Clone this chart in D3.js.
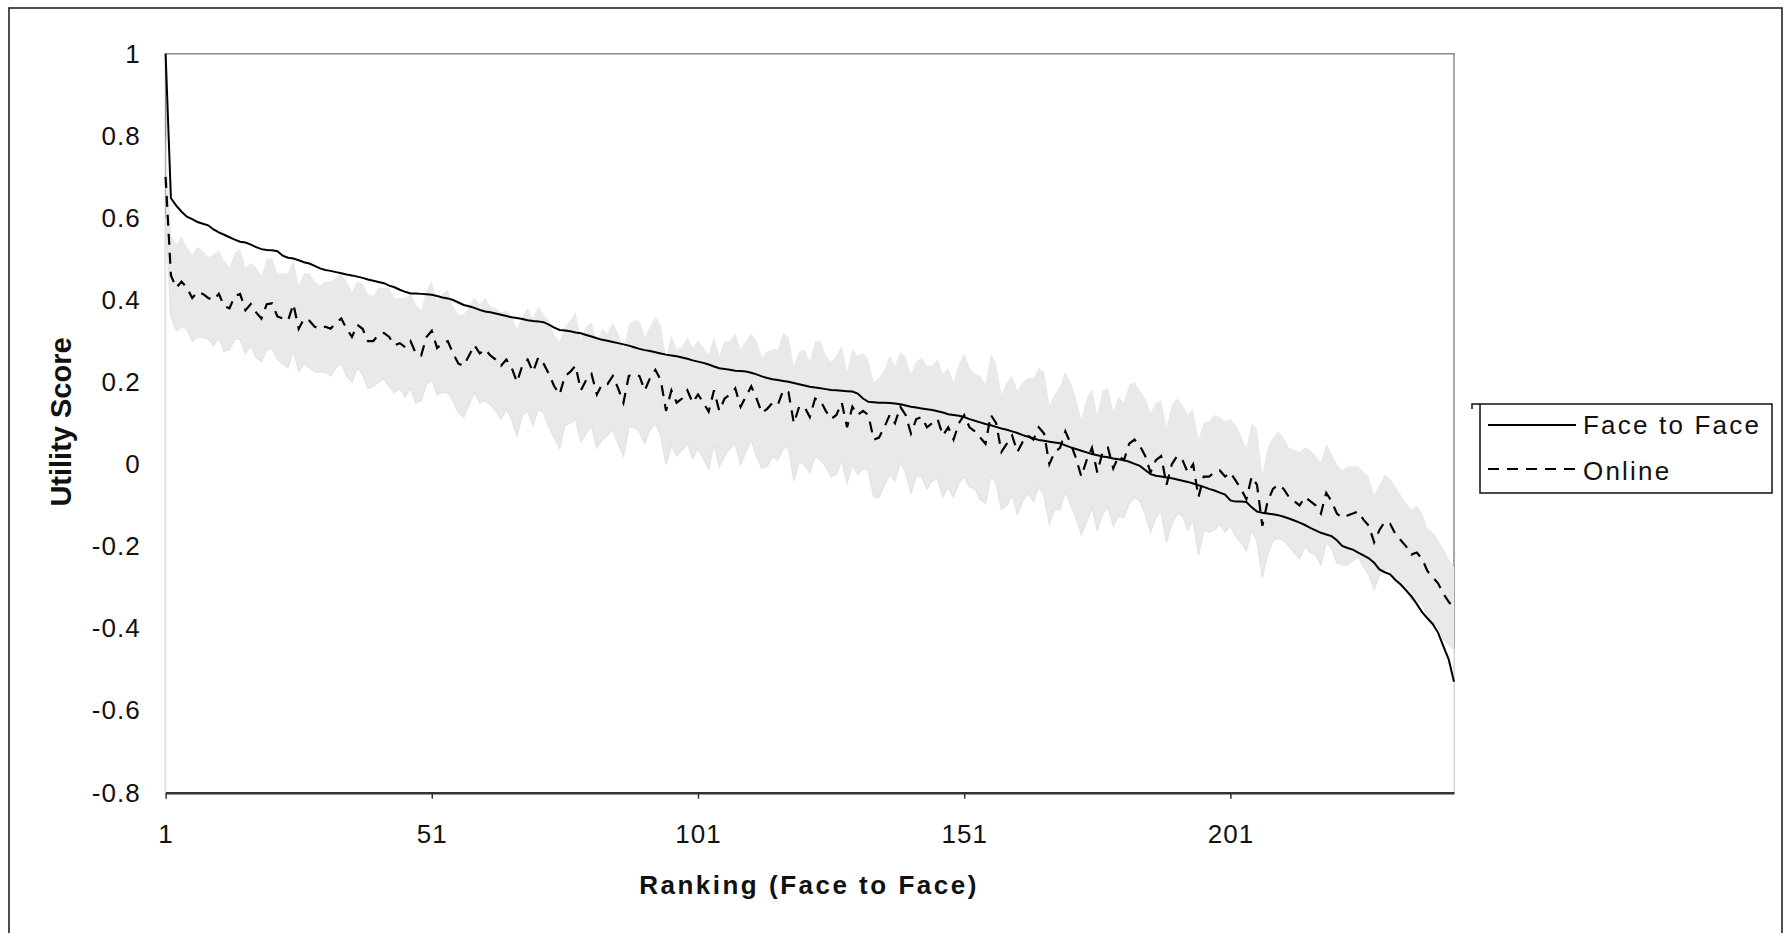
<!DOCTYPE html>
<html><head><meta charset="utf-8">
<script src="https://cdn.jsdelivr.net/npm/d3@7"></script>
<style>html,body{margin:0;padding:0;background:#fff;} svg{display:block;} text{font-family:"Liberation Sans",Arial,sans-serif;}</style>
</head><body><svg id="chart" width="1791" height="933"></svg>
<script>
const faceToFace=[
1.000,0.648,0.630,0.615,0.603,0.597,0.590,0.586,0.582,0.572,
0.565,0.559,0.553,0.547,0.542,0.540,0.535,0.529,0.524,0.522,
0.521,0.519,0.508,0.503,0.501,0.497,0.492,0.489,0.483,0.477,
0.473,0.471,0.468,0.465,0.462,0.460,0.457,0.454,0.450,0.447,
0.444,0.441,0.435,0.431,0.425,0.420,0.416,0.416,0.415,0.414,
0.413,0.410,0.406,0.404,0.400,0.394,0.388,0.385,0.381,0.376,
0.372,0.370,0.367,0.364,0.361,0.358,0.356,0.354,0.351,0.349,
0.348,0.346,0.340,0.333,0.327,0.326,0.324,0.321,0.319,0.315,
0.311,0.307,0.303,0.301,0.298,0.295,0.292,0.289,0.285,0.281,
0.278,0.276,0.273,0.270,0.267,0.265,0.263,0.260,0.257,0.253,
0.250,0.247,0.243,0.238,0.234,0.232,0.230,0.228,0.227,0.226,
0.223,0.219,0.214,0.210,0.207,0.205,0.203,0.201,0.198,0.195,
0.192,0.189,0.187,0.185,0.183,0.181,0.180,0.179,0.178,0.177,
0.172,0.160,0.152,0.151,0.150,0.150,0.149,0.148,0.146,0.143,
0.140,0.138,0.136,0.134,0.132,0.129,0.126,0.122,0.120,0.118,
0.115,0.110,0.106,0.102,0.098,0.095,0.091,0.087,0.084,0.080,
0.076,0.071,0.067,0.063,0.059,0.057,0.055,0.053,0.051,0.046,
0.041,0.037,0.033,0.029,0.025,0.022,0.019,0.017,0.014,0.012,
0.010,0.006,0.001,-0.004,-0.014,-0.024,-0.028,-0.030,-0.032,-0.034,
-0.037,-0.040,-0.043,-0.047,-0.051,-0.055,-0.060,-0.064,-0.069,-0.074,
-0.088,-0.091,-0.091,-0.092,-0.105,-0.115,-0.118,-0.120,-0.122,-0.124,
-0.128,-0.132,-0.137,-0.142,-0.148,-0.155,-0.161,-0.167,-0.171,-0.175,
-0.185,-0.199,-0.204,-0.208,-0.215,-0.222,-0.229,-0.240,-0.256,-0.263,
-0.268,-0.282,-0.293,-0.307,-0.322,-0.340,-0.360,-0.375,-0.389,-0.410,
-0.443,-0.475,-0.530];

const online=[
0.700,0.460,0.430,0.445,0.430,0.405,0.420,0.415,0.405,0.400,
0.415,0.385,0.380,0.410,0.415,0.375,0.390,0.370,0.355,0.390,
0.392,0.360,0.355,0.350,0.390,0.330,0.355,0.350,0.335,0.330,
0.335,0.330,0.345,0.355,0.330,0.310,0.340,0.330,0.300,0.300,
0.315,0.320,0.310,0.290,0.295,0.285,0.300,0.270,0.265,0.310,
0.325,0.283,0.295,0.300,0.270,0.245,0.240,0.265,0.290,0.270,
0.280,0.265,0.255,0.240,0.255,0.235,0.200,0.240,0.255,0.225,
0.260,0.245,0.220,0.190,0.170,0.215,0.225,0.240,0.180,0.205,
0.220,0.170,0.195,0.195,0.215,0.185,0.150,0.215,0.220,0.215,
0.180,0.210,0.230,0.205,0.130,0.180,0.150,0.160,0.180,0.150,
0.170,0.150,0.128,0.180,0.130,0.160,0.170,0.185,0.140,0.165,
0.190,0.160,0.125,0.135,0.150,0.145,0.180,0.175,0.100,0.140,
0.140,0.115,0.160,0.155,0.130,0.110,0.120,0.150,0.090,0.140,
0.120,0.130,0.120,0.060,0.065,0.090,0.120,0.100,0.140,0.120,
0.075,0.110,0.115,0.090,0.100,0.110,0.070,0.090,0.060,0.100,
0.120,0.090,0.080,0.065,0.050,0.120,0.100,0.030,0.050,0.070,
0.030,0.055,0.070,0.060,0.090,0.075,0.000,0.030,0.040,0.080,
0.050,0.015,-0.030,0.010,0.040,-0.020,0.030,0.040,-0.010,0.020,
0.010,0.050,0.060,0.045,0.020,-0.020,0.010,0.020,-0.050,0.000,
0.020,0.010,-0.020,0.000,-0.080,-0.030,-0.030,-0.020,-0.015,-0.030,
-0.020,-0.040,-0.060,-0.085,-0.030,-0.050,-0.150,-0.090,-0.060,-0.050,
-0.060,-0.080,-0.090,-0.100,-0.080,-0.090,-0.100,-0.120,-0.070,-0.090,
-0.120,-0.130,-0.125,-0.120,-0.115,-0.135,-0.150,-0.190,-0.160,-0.140,
-0.145,-0.170,-0.185,-0.200,-0.220,-0.215,-0.230,-0.260,-0.275,-0.290,
-0.315,-0.335,-0.350];

// half-width of the shaded interval around the Online series
const onlineCI=[
0.100,0.100,0.105,0.110,0.100,0.105,0.110,0.105,0.100,0.110,
0.105,0.110,0.100,0.105,0.110,0.105,0.100,0.110,0.105,0.110,
0.110,0.105,0.110,0.115,0.110,0.105,0.110,0.115,0.110,0.105,
0.110,0.115,0.110,0.110,0.115,0.110,0.105,0.110,0.115,0.110,
0.115,0.110,0.120,0.115,0.110,0.120,0.115,0.120,0.110,0.115,
0.120,0.115,0.120,0.125,0.115,0.120,0.125,0.120,0.115,0.120,
0.125,0.120,0.125,0.130,0.120,0.125,0.130,0.120,0.125,0.130,
0.125,0.120,0.130,0.125,0.130,0.120,0.125,0.130,0.125,0.130,
0.125,0.130,0.135,0.125,0.130,0.135,0.130,0.125,0.130,0.135,
0.130,0.125,0.130,0.135,0.130,0.135,0.130,0.125,0.130,0.135,
0.130,0.135,0.140,0.130,0.135,0.140,0.130,0.135,0.140,0.135,
0.130,0.140,0.135,0.140,0.130,0.135,0.140,0.135,0.140,0.135,
0.140,0.135,0.140,0.145,0.135,0.140,0.145,0.140,0.135,0.140,
0.145,0.140,0.135,0.140,0.145,0.140,0.145,0.140,0.135,0.140,
0.145,0.140,0.145,0.150,0.140,0.145,0.150,0.145,0.140,0.145,
0.150,0.145,0.140,0.150,0.145,0.150,0.145,0.140,0.150,0.145,
0.150,0.145,0.140,0.150,0.145,0.150,0.145,0.140,0.150,0.145,
0.150,0.145,0.140,0.150,0.145,0.140,0.150,0.145,0.140,0.145,
0.140,0.145,0.140,0.135,0.140,0.145,0.140,0.135,0.140,0.145,
0.140,0.135,0.140,0.135,0.140,0.130,0.135,0.140,0.130,0.135,
0.130,0.135,0.130,0.125,0.130,0.135,0.125,0.130,0.125,0.130,
0.125,0.120,0.125,0.130,0.120,0.125,0.120,0.125,0.120,0.115,
0.120,0.115,0.120,0.115,0.110,0.115,0.120,0.115,0.110,0.115,
0.110,0.115,0.110,0.105,0.110,0.115,0.110,0.105,0.110,0.105,
0.110,0.105,0.100];

const xTickValues=[1,51,101,151,201];
const yTickValues=[-0.8,-0.6,-0.4,-0.2,0,0.2,0.4,0.6,0.8,1];
const seriesNames=["Face to Face","Online"];
const xTitle="Ranking (Face to Face)";
const yTitle="Utility Score";

const n=Math.min(faceToFace.length,online.length,onlineCI.length);
const ranks=d3.range(1,n+1);
const rows=ranks.map((r,i)=>({rank:r,f:faceToFace[i],o:online[i],e:onlineCI[i]}));

const W=1791,H=933;
const plot={left:165.6,right:1454,top:53.7,bottom:792.7};
const FONT="'Liberation Sans', Arial, sans-serif";
const x=d3.scaleLinear().domain([1,n]).range([plot.left,plot.right]);
const y=d3.scaleLinear().domain([-0.8,1]).range([plot.bottom,plot.top]);

const svg=d3.select("#chart");
svg.append("rect").attr("width",W).attr("height",H).attr("fill","#fff");
svg.append("rect").attr("x",9).attr("y",8).attr("width",1773).attr("height",940)
  .attr("fill","none").attr("stroke","#222").attr("stroke-width",1.6);

// plot frame
svg.append("path")
  .attr("d",`M${plot.left},${plot.bottom}V${plot.top}H${plot.right}V${plot.bottom}`)
  .attr("fill","none").attr("stroke","#8a8a8a").attr("stroke-width",1.5);

// shaded interval
svg.append("path").datum(rows)
  .attr("d",d3.area().x(d=>x(d.rank)).y0(y(-0.8)).y1(d=>y(d.o+d.e)))
  .attr("fill","#e9e9e9");
svg.append("path").datum(rows)
  .attr("d",d3.area().x(d=>x(d.rank)).y0(y(-0.8)).y1(d=>y(d.o-d.e)))
  .attr("fill","#fff").attr("stroke","#e4e4e4").attr("stroke-width",1.5);

// series lines
svg.append("path").datum(rows)
  .attr("d",d3.line().x(d=>x(d.rank)).y(d=>y(d.o)))
  .attr("fill","none").attr("stroke","#000").attr("stroke-width",2.2)
  .attr("stroke-dasharray","11,8");
svg.append("path").datum(rows)
  .attr("d",d3.line().x(d=>x(d.rank)).y(d=>y(d.f)))
  .attr("fill","none").attr("stroke","#000").attr("stroke-width",2);

// x axis
const gx=svg.append("g").attr("transform",`translate(0,${plot.bottom})`)
  .call(d3.axisBottom(x).tickValues(xTickValues).tickSize(6).tickSizeOuter(0).tickPadding(26).tickFormat(d3.format("d")));
gx.attr("font-family",FONT).attr("font-size",26);
gx.select(".domain").attr("stroke","#333").attr("stroke-width",2.6);
gx.selectAll(".tick line").attr("stroke","#333").attr("stroke-width",1.5);
gx.selectAll(".tick text").attr("fill","#111").attr("letter-spacing",1);

// y axis
const gy=svg.append("g").attr("transform",`translate(${plot.left},0)`)
  .call(d3.axisLeft(y).tickValues(yTickValues).tickSize(0).tickPadding(25)
    .tickFormat(d=>String(Math.round(d*10)/10)));
gy.attr("font-family",FONT).attr("font-size",26);
gy.select(".domain").remove();
gy.selectAll(".tick text").attr("fill","#111").attr("letter-spacing",1);

// titles
svg.append("text").attr("x",809).attr("y",894).attr("text-anchor","middle")
  .attr("font-family",FONT).attr("font-weight","bold").attr("font-size",26)
  .attr("letter-spacing",2.5).attr("fill","#111").text(xTitle);
svg.append("text").attr("transform","translate(71,422) rotate(-90)").attr("text-anchor","middle")
  .attr("font-family",FONT).attr("font-weight","bold").attr("font-size",29)
  .attr("fill","#111").text(yTitle);

// legend
const lg=svg.append("g");
lg.append("rect").attr("x",1480).attr("y",404).attr("width",292).attr("height",89)
  .attr("fill","#fff").attr("stroke","#111").attr("stroke-width",1.5);
lg.append("path").attr("d","M1472,409V404H1480").attr("fill","none").attr("stroke","#111").attr("stroke-width",1.5);
const legendRows=[{name:seriesNames[0],dash:null,ly:425,ty:434},{name:seriesNames[1],dash:"11,8",ly:469,ty:480}];
legendRows.forEach(r=>{
  lg.append("line").attr("x1",1488).attr("x2",1576).attr("y1",r.ly).attr("y2",r.ly)
    .attr("stroke","#000").attr("stroke-width",2).attr("stroke-dasharray",r.dash);
  lg.append("text").attr("x",1583).attr("y",r.ty).attr("font-family",FONT).attr("font-size",26)
    .attr("letter-spacing",2.2).attr("fill","#111").text(r.name);
});
</script>
</body></html>
